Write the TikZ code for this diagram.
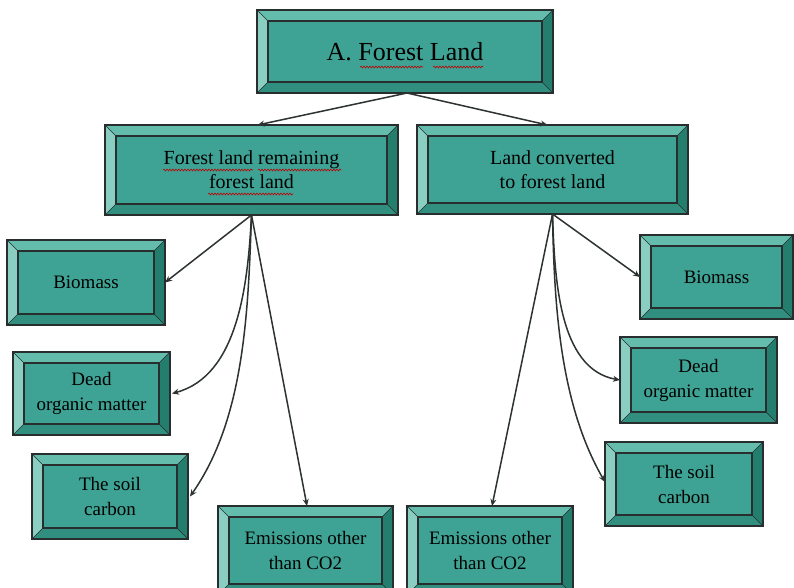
\documentclass[tikz,border=0pt]{standalone}
\usepackage{fontspec}
\setmainfont{Liberation Serif}
\usetikzlibrary{arrows.meta,decorations.pathmorphing}
\definecolor{face}{RGB}{62,163,148}
\definecolor{bevT}{RGB}{100,188,173}
\definecolor{bevL}{RGB}{138,206,193}
\definecolor{bevR}{RGB}{36,126,110}
\definecolor{bevB}{RGB}{48,143,126}
\definecolor{edge}{RGB}{40,45,45}
\definecolor{linec}{RGB}{45,50,50}
\newcommand{\bw}{11pt}
\tikzset{
  bevbox/.style={rectangle, draw=edge, line width=1.2pt, fill=face, inner sep=0pt, outer sep=0pt,
    align=center, text=black,
    path picture={
      \coordinate (NW) at (path picture bounding box.north west);
      \coordinate (NE) at (path picture bounding box.north east);
      \coordinate (SW) at (path picture bounding box.south west);
      \coordinate (SE) at (path picture bounding box.south east);
      \fill[bevT] (NW) -- (NE) -- ([shift={(-\bw,-\bw)}]NE) -- ([shift={(\bw,-\bw)}]NW) -- cycle;
      \fill[bevL] (NW) -- (SW) -- ([shift={(\bw,\bw)}]SW) -- ([shift={(\bw,-\bw)}]NW) -- cycle;
      \fill[bevR] (NE) -- (SE) -- ([shift={(-\bw,\bw)}]SE) -- ([shift={(-\bw,-\bw)}]NE) -- cycle;
      \fill[bevB] (SW) -- (SE) -- ([shift={(-\bw,\bw)}]SE) -- ([shift={(\bw,\bw)}]SW) -- cycle;
      \draw[edge, line width=1.1pt] ([shift={(\bw,-\bw)}]NW) rectangle ([shift={(-\bw,\bw)}]SE);
      \draw[edge, line width=0.5pt] (NW) -- ([shift={(\bw,-\bw)}]NW)
        (NE) -- ([shift={(-\bw,-\bw)}]NE)
        (SW) -- ([shift={(\bw,\bw)}]SW)
        (SE) -- ([shift={(-\bw,\bw)}]SE);
    }},
  bigtext/.style={font=\fontsize{26}{30}\selectfont},
  midtext/.style={font=\fontsize{20}{24}\selectfont},
  smalltext/.style={font=\fontsize{19}{25}\selectfont},
  conn/.style={draw=linec, line width=1.5pt, -{Stealth[length=7pt,width=6pt]}},
  squig/.style={draw=red!75!black, line width=0.6pt, decorate,
    decoration={snake, amplitude=0.9pt, segment length=3pt}}
}
\begin{document}
\begin{tikzpicture}[x=1pt,y=1pt]
\useasboundingbox (0,0) rectangle (794,-587);
\clip (0,0) rectangle (794,-587);
\fill[white] (0,0) rectangle (794,-587);

% boxes
\node[bevbox, bigtext, minimum width=296pt, minimum height=83pt] (top) at (405,-51.5) {A. Forest Land};
\node[bevbox, midtext, minimum width=293pt, minimum height=90pt] (lmid) at (251.5,-170) {Forest land remaining\\forest land};
\node[bevbox, midtext, minimum width=271pt, minimum height=89pt] (rmid) at (552.5,-169.5) {Land converted\\to forest land};

\node[bevbox, smalltext, minimum width=158pt, minimum height=85pt] (lbio) at (86,-282.5) {Biomass};
\node[bevbox, smalltext, minimum width=157pt, minimum height=83pt] (ldead) at (91.5,-393.5) {Dead\\organic matter};
\node[bevbox, smalltext, minimum width=156pt, minimum height=85pt] (lsoil) at (110,-496.5) {The soil\\carbon};
\node[bevbox, smalltext, minimum width=175pt, minimum height=89pt] (lemi) at (305.5,-550.5) {Emissions other\\than CO2};

\node[bevbox, smalltext, minimum width=166pt, minimum height=89pt] (remi) at (490,-550.5) {Emissions other\\than CO2};
\node[bevbox, smalltext, minimum width=153pt, minimum height=84pt] (rbio) at (716.5,-277) {Biomass};
\node[bevbox, smalltext, minimum width=157pt, minimum height=86pt] (rdead) at (698.5,-380) {Dead\\organic matter};
\node[bevbox, smalltext, minimum width=158pt, minimum height=84pt] (rsoil) at (684,-484) {The soil\\carbon};

% spell-check marks
\draw[squig] (360,-67) -- (423,-67);
\draw[squig] (433,-67) -- (483,-67);
\draw[squig] (163,-170) -- (253,-170);
\draw[squig] (258,-170) -- (341,-170);
\draw[squig] (208,-194) -- (293,-194);

% connectors
\draw[conn] ([xshift=2pt]top.south) -- ([xshift=6pt]lmid.north);
\draw[conn] ([xshift=2pt]top.south) -- ([xshift=-5pt]rmid.north);

\draw[conn] (lmid.south) -- (lbio.east);
\draw[conn] (lmid.south) to[out=-93, in=15, looseness=0.9] ([xshift=2pt]ldead.east);
\draw[conn] (lmid.south) to[out=-92, in=55, looseness=0.85] ([xshift=2pt]lsoil.east);
\draw[conn] (lmid.south) -- ([xshift=1.5pt]lemi.north);

\draw[conn] (rmid.south) -- (rbio.west);
\draw[conn] (rmid.south) to[out=-88, in=170, looseness=0.9] (rdead.west);
\draw[conn] (rmid.south) to[out=-89, in=120, looseness=0.85] ([yshift=2pt]rsoil.west);
\draw[conn] (rmid.south) -- ([xshift=2pt]remi.north);
\end{tikzpicture}
\end{document}
